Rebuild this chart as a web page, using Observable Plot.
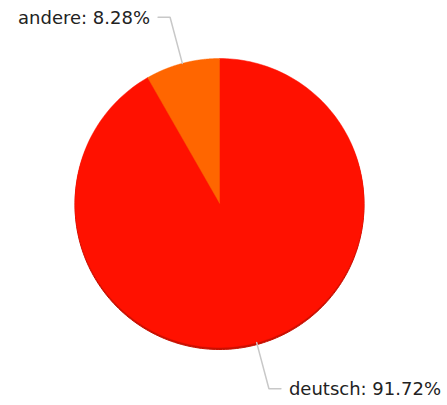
<!DOCTYPE html>
<html>
<head>
<meta charset="utf-8">
<script src="https://cdn.jsdelivr.net/npm/d3@7"></script>
<script src="https://cdn.jsdelivr.net/npm/@observablehq/plot@0.6"></script>
<style>
  html, body { margin: 0; padding: 0; background: #fff; }
  #chart svg { display: block; }
</style>
</head>
<body>
<div id="chart"></div>
<script>
const categories = ["deutsch", "andere"];
const shares = [91.72, 8.28];
const colors = ["#ff1100", "#ff6600"];
const labels = ["deutsch: 91.72%", "andere: 8.28%"];

const arcs = d3.pie().sort(null)(shares);
const slicePts = [];
arcs.forEach((a, i) => {
  const n = 240;
  slicePts.push({name: categories[i], x: 0, y: 0});
  for (let k = 0; k <= n; k++) {
    const t = a.startAngle + (a.endAngle - a.startAngle) * k / n;
    slicePts.push({name: categories[i], x: Math.sin(t), y: Math.cos(t)});
  }
  slicePts.push({name: categories[i], x: 0, y: 0});
});

const R = 144.5;
const elbowR = 1.33, hLen = 12 / R, gap = 8 / R;
const leaders = [], labelPts = [];
arcs.forEach((a, i) => {
  const m = (a.startAngle + a.endAngle) / 2;
  const sx = Math.sin(m), sy = Math.cos(m);
  const side = sx >= 0 ? 1 : -1;
  const ex = sx * elbowR, ey = sy * elbowR;
  leaders.push({name: categories[i], x: sx, y: sy});
  leaders.push({name: categories[i], x: ex, y: ey});
  leaders.push({name: categories[i], x: ex + side * hLen, y: ey});
  labelPts.push({name: categories[i], side, text: labels[i], x: ex + side * (hLen + gap), y: ey});
});

const chart = Plot.plot({
  width: 447,
  height: 405,
  margin: 0,
  x: {domain: [-1, 1], range: [219 - R, 219 + R], axis: null},
  y: {domain: [-1, 1], range: [202.5 + R, 202.5 - R], axis: null},
  color: {domain: categories, range: colors},
  style: {fontFamily: "DejaVu Sans", fontSize: "18px", background: "#fff"},
  marks: [
    Plot.line(slicePts, {x: "x", y: "y", z: "name", fill: "#c80f00", stroke: "#c80f00", strokeWidth: 1, dy: 2, curve: "linear"}),
    Plot.line(slicePts, {x: "x", y: "y", z: "name", fill: "name", stroke: "name", strokeWidth: 0.5, curve: "linear"}),
    Plot.line(leaders, {x: "x", y: "y", z: "name", stroke: "#c8c8c8", strokeWidth: 1.5, strokeLinejoin: "miter", curve: "linear"}),
    Plot.text(labelPts.filter(d => d.side > 0), {x: "x", y: "y", text: "text", textAnchor: "start", fill: "#222", dy: 1}),
    Plot.text(labelPts.filter(d => d.side < 0), {x: "x", y: "y", text: "text", textAnchor: "end", fill: "#222", dy: 1})
  ]
});
document.getElementById("chart").appendChild(chart);
</script>
</body>
</html>
